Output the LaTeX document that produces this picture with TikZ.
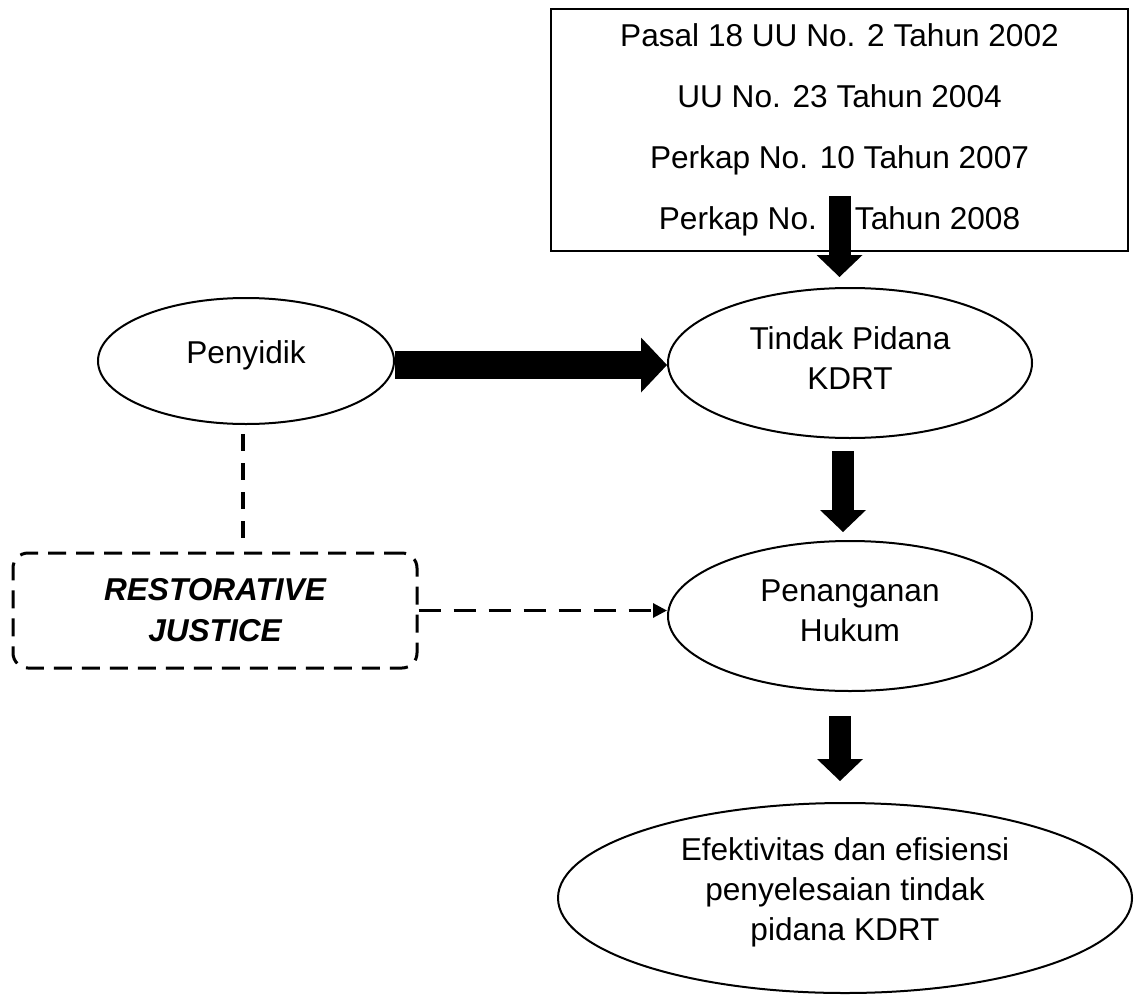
\documentclass[tikz,border=0pt]{standalone}
\usepackage{fontspec}
\setmainfont{Liberation Sans}
\usetikzlibrary{arrows.meta,shapes.geometric}
\tikzset{
  oval/.style={draw, ellipse, line width=1pt, inner sep=0pt, align=center},
  blok/.style={line width=11pt, -{Triangle[length=11pt,width=23pt,line width=0pt]}},
  putus/.style={line width=1.5pt, dash pattern=on 9pt off 5pt},
}
\begin{document}
\begin{tikzpicture}[x=0.5pt, y=-0.5pt, font=\fontsize{15.8pt}{20pt}\selectfont]
	\useasboundingbox (0,0) rectangle (1134,995);
	% dasar hukum
	\node[draw, line width=1pt, minimum width=288.5pt, minimum height=121pt, align=center,
		font=\fontsize{15.8pt}{30.5pt}\selectfont] (dasar) at (839.5,130)
		{Pasal 18 UU No. 2 Tahun 2002\\UU No. 23 Tahun 2004\\Perkap No. 10 Tahun 2007\\Perkap No. 3 Tahun 2008};
	% elips
	\node[oval, minimum width=148pt, minimum height=63pt, text depth=8.5pt] (penyidik) at (246,361) {Penyidik};
	\node[oval, minimum width=182pt, minimum height=75pt, text depth=5pt] (tindak) at (850,363) {Tindak Pidana\\KDRT};
	\node[oval, minimum width=182pt, minimum height=75pt, text depth=5pt] (penanganan) at (850,616) {Penanganan\\Hukum};
	\node[oval, minimum width=287pt, minimum height=95pt, text depth=8.5pt] (efektif) at (845,898)
		{Efektivitas dan efisiensi\\penyelesaian tindak\\pidana KDRT};
	% restorative justice
	\node[draw, putus, rounded corners=7.5pt, minimum width=202pt, minimum height=57.5pt, align=center,
		font=\fontsize{15.8pt}{20.5pt}\selectfont\bfseries\itshape] (rj) at (215,610.5) {RESTORATIVE\\JUSTICE};
	% panah blok
	\draw[blok, shorten >=5pt] ([yshift=28pt]dasar.south) -- (dasar.south |- tindak.north);
	\draw[blok, line width=14pt, -{Triangle[length=13pt,width=27.5pt,line width=0pt]}]
		([yshift=-2pt]penyidik.east) -- ([yshift=-2pt]penyidik.east -| tindak.west);
	\draw[blok, shorten <=6pt, shorten >=4pt] ([xshift=-3.5pt]tindak.south) -- ([xshift=-3.5pt]penanganan.north);
	\draw[blok, shorten <=12pt, shorten >=10.5pt] ([xshift=-5pt]penanganan.south) -- ([xshift=-5pt]penanganan.south |- efektif.north);
	% garis putus-putus
	\draw[putus, line width=2.25pt, dash pattern=on 8.5pt off 6pt, shorten <=4.5pt, shorten >=4pt]
		([xshift=-1.5pt]penyidik.south) -- ([xshift=-1.5pt]penyidik.south |- rj.north);
	\draw[putus, dash pattern=on 11pt off 6.5pt, -{Triangle[length=7pt,width=7pt]}] (rj.east) -- (rj.east -| penanganan.west);
\end{tikzpicture}
\end{document}
